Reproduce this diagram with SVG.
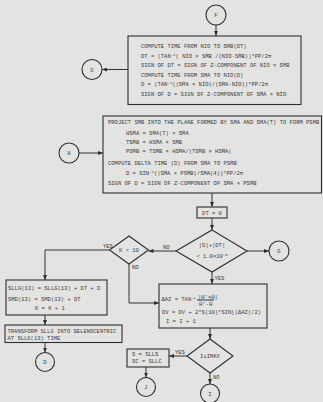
<svg xmlns="http://www.w3.org/2000/svg" width="323" height="402" viewBox="0 0 323 402">
<style>
.box{fill:none;stroke:#2e2e2e;stroke-width:1.1}
.ln{fill:none;stroke:#333;stroke-width:1}
.t{font-family:"Liberation Mono","DejaVu Sans Mono",monospace;font-size:5.5px;fill:#3c3c3c}
.c{text-anchor:middle}
.sup{font-size:4px}
</style>
<defs>
<marker id="ah" viewBox="0 0 10 8" refX="10" refY="4" markerWidth="5" markerHeight="4" markerUnits="userSpaceOnUse" orient="auto">
<path d="M0,0 L10,4 L0,8 z" fill="#2e2e2e"/>
</marker>
</defs>
<rect width="323" height="402" fill="#e3e3e1"/>

<g id="connectors">
<line class="ln" x1="216" y1="25" x2="216" y2="36" marker-end="url(#ah)"/>
<line class="ln" x1="128" y1="69.5" x2="102" y2="69.5" marker-end="url(#ah)"/>
<line class="ln" x1="79" y1="153" x2="103" y2="153" marker-end="url(#ah)"/>
<line class="ln" x1="212" y1="193" x2="212" y2="207" marker-end="url(#ah)"/>
<line class="ln" x1="212" y1="218" x2="212" y2="230" marker-end="url(#ah)"/>
<line class="ln" x1="247" y1="251" x2="269" y2="251" marker-end="url(#ah)"/>
<line class="ln" x1="176" y1="251" x2="148.5" y2="251" marker-end="url(#ah)"/>
<polyline class="ln" points="109.5,250 45,250 45,280" marker-end="url(#ah)"/>
<polyline class="ln" points="129,264 129,303 159,303" marker-end="url(#ah)"/>
<line class="ln" x1="212" y1="272" x2="212" y2="284" marker-end="url(#ah)"/>
<line class="ln" x1="210" y1="328" x2="210" y2="339" marker-end="url(#ah)"/>
<line class="ln" x1="187" y1="356" x2="169" y2="356" marker-end="url(#ah)"/>
<line class="ln" x1="210" y1="373" x2="210" y2="384" marker-end="url(#ah)"/>
<line class="ln" x1="146" y1="367" x2="146" y2="377.5" marker-end="url(#ah)"/>
<line class="ln" x1="45" y1="315" x2="45" y2="325" marker-end="url(#ah)"/>
<line class="ln" x1="45" y1="342.5" x2="45" y2="352.5" marker-end="url(#ah)"/>
<text class="t" x="103" y="248">YES</text>
<text class="t" x="163" y="248.5">NO</text>
<text class="t" x="132" y="269">NO</text>
<text class="t" x="214.5" y="279.5">YES</text>
<text class="t" x="175" y="353.5">YES</text>
<text class="t" x="213" y="379">NO</text>
</g>

<g id="F"><circle class="box" cx="216" cy="15" r="10"/><text class="t c" x="216" y="17">F</text></g>
<g id="G1"><circle class="box" cx="92" cy="69.5" r="10"/><text class="t c" x="92" y="71.5">G</text></g>
<g id="H"><circle class="box" cx="69" cy="153" r="10"/><text class="t c" x="69" y="155">H</text></g>
<g id="G2"><circle class="box" cx="279" cy="251" r="10"/><text class="t c" x="279" y="253">G</text></g>
<g id="D"><circle class="box" cx="45" cy="362" r="9.5"/><text class="t c" x="45" y="364">D</text></g>
<g id="J"><circle class="box" cx="146" cy="387" r="9.5"/><text class="t c" x="146" y="389">J</text></g>
<g id="I"><circle class="box" cx="210" cy="393.5" r="9.5"/><text class="t c" x="210" y="395.5">I</text></g>

<g id="box1">
<rect class="box" x="128" y="36" width="173" height="68.5"/>
<text class="t" x="141" y="48.3">COMPUTE TIME FROM NIO TO SMB(DT)</text>
<text class="t" x="141" y="57.8">DT = (TAN<tspan class="sup" dy="-2">-1</tspan><tspan dy="2">( NİO × SṀB /(NİO·SṀB))*PP/2π</tspan></text>
<text class="t" x="141" y="67.3">SIGN OF DT = SIGN OF Z-COMPONENT OF NİO × SṀB</text>
<text class="t" x="141" y="76.8">COMPUTE TIME FROM SMA TO NIO(D)</text>
<text class="t" x="141" y="86.3">D = (TAN<tspan class="sup" dy="-2">-1</tspan><tspan dy="2">(|SṀA × NİO|/(SṀA·NİO))*PP/2π</tspan></text>
<text class="t" x="141" y="95.8">SIGN OF D = SIGN OF Z-COMPONENT OF SṀA × NİO</text>
</g>

<g id="box2">
<rect class="box" x="103" y="116" width="218.5" height="77"/>
<text class="t" x="108" y="124">PROJECT SMB INTO THE PLANE FORMED BY SMA AND SMA(T) TO FORM PSṀB</text>
<text class="t" x="126" y="134.5">HSṀA = SṀA(T) × SṀA</text>
<text class="t" x="126" y="143.5">TSṀB = HSṀA × SṀB</text>
<text class="t" x="126" y="152.5">PSṀB = TSṀB × HSṀA/|TSṀB × HSṀA|</text>
<text class="t" x="108" y="165">COMPUTE DELTA TIME (D) FROM SṀA TO PSṀB</text>
<text class="t" x="126" y="175">D = SIN<tspan class="sup" dy="-2">-1</tspan><tspan dy="2">(|SṀA × PSṀB|/SMA(4))*PP/2π</tspan></text>
<text class="t" x="108" y="185">SIGN OF D = SIGN OF Z-COMPONENT OF SṀA × PSṀB</text>
</g>

<g id="dt0">
<rect class="box" x="197" y="207" width="30" height="11"/>
<text class="t c" x="212" y="214.5">DT = 0</text>
</g>

<g id="conv">
<polygon class="box" points="212,230 247,251 212,272 176,251"/>
<text class="t c" x="212" y="246.5">|D|+|DT|</text>
<text class="t c" x="212" y="257.5">&lt; 1.0×10<tspan class="sup" dy="-2">-5</tspan></text>
</g>

<g id="k10">
<polygon class="box" points="129,236 148.5,250 129,264 109.5,250"/>
<text class="t c" x="129" y="252">K &lt; 10</text>
</g>

<g id="box4">
<rect class="box" x="6" y="280" width="101" height="35"/>
<text class="t" x="8" y="290">SLLG(13) = SLLG(13) + DT + D</text>
<text class="t" x="8" y="300.5">SMD(13)  = SMD(13) + DT</text>
<text class="t" x="35" y="310">K = K + 1</text>
</g>

<g id="box5">
<rect class="box" x="5" y="325" width="117" height="17.5"/>
<text class="t" x="7.5" y="332.5">TRANSFORM SLLG INTO SELENOCENTRIC</text>
<text class="t" x="7.5" y="339.5">AT SLLG(13) TIME</text>
</g>

<g id="box3">
<rect class="box" x="159" y="284" width="108" height="44"/>
<text class="t" x="161.5" y="300.5">ΔAZ = TAN<tspan class="sup" dy="-2">-1</tspan></text>
<text class="t" x="198" y="298.5">|Ḣ'×Ḣ|</text>
<line class="ln" x1="197" y1="300" x2="214" y2="300" stroke-width="0.7"/>
<text class="t" x="199" y="305.5">Ḣ'·Ḣ</text>
<text class="t" x="162" y="314">DV = DV + 2*S(10)*SIN(|ΔAZ|/2)</text>
<text class="t" x="166" y="322.5">I = I + 1</text>
</g>

<g id="imax">
<polygon class="box" points="210,339 233,356 210,373 187,356"/>
<text class="t c" x="210" y="358">I≤IMAX</text>
</g>

<g id="sbox">
<rect class="box" x="127" y="349" width="42" height="18"/>
<text class="t" x="132" y="356">S  = SLLS</text>
<text class="t" x="132" y="363">SC = SLLC</text>
</g>
</svg>
